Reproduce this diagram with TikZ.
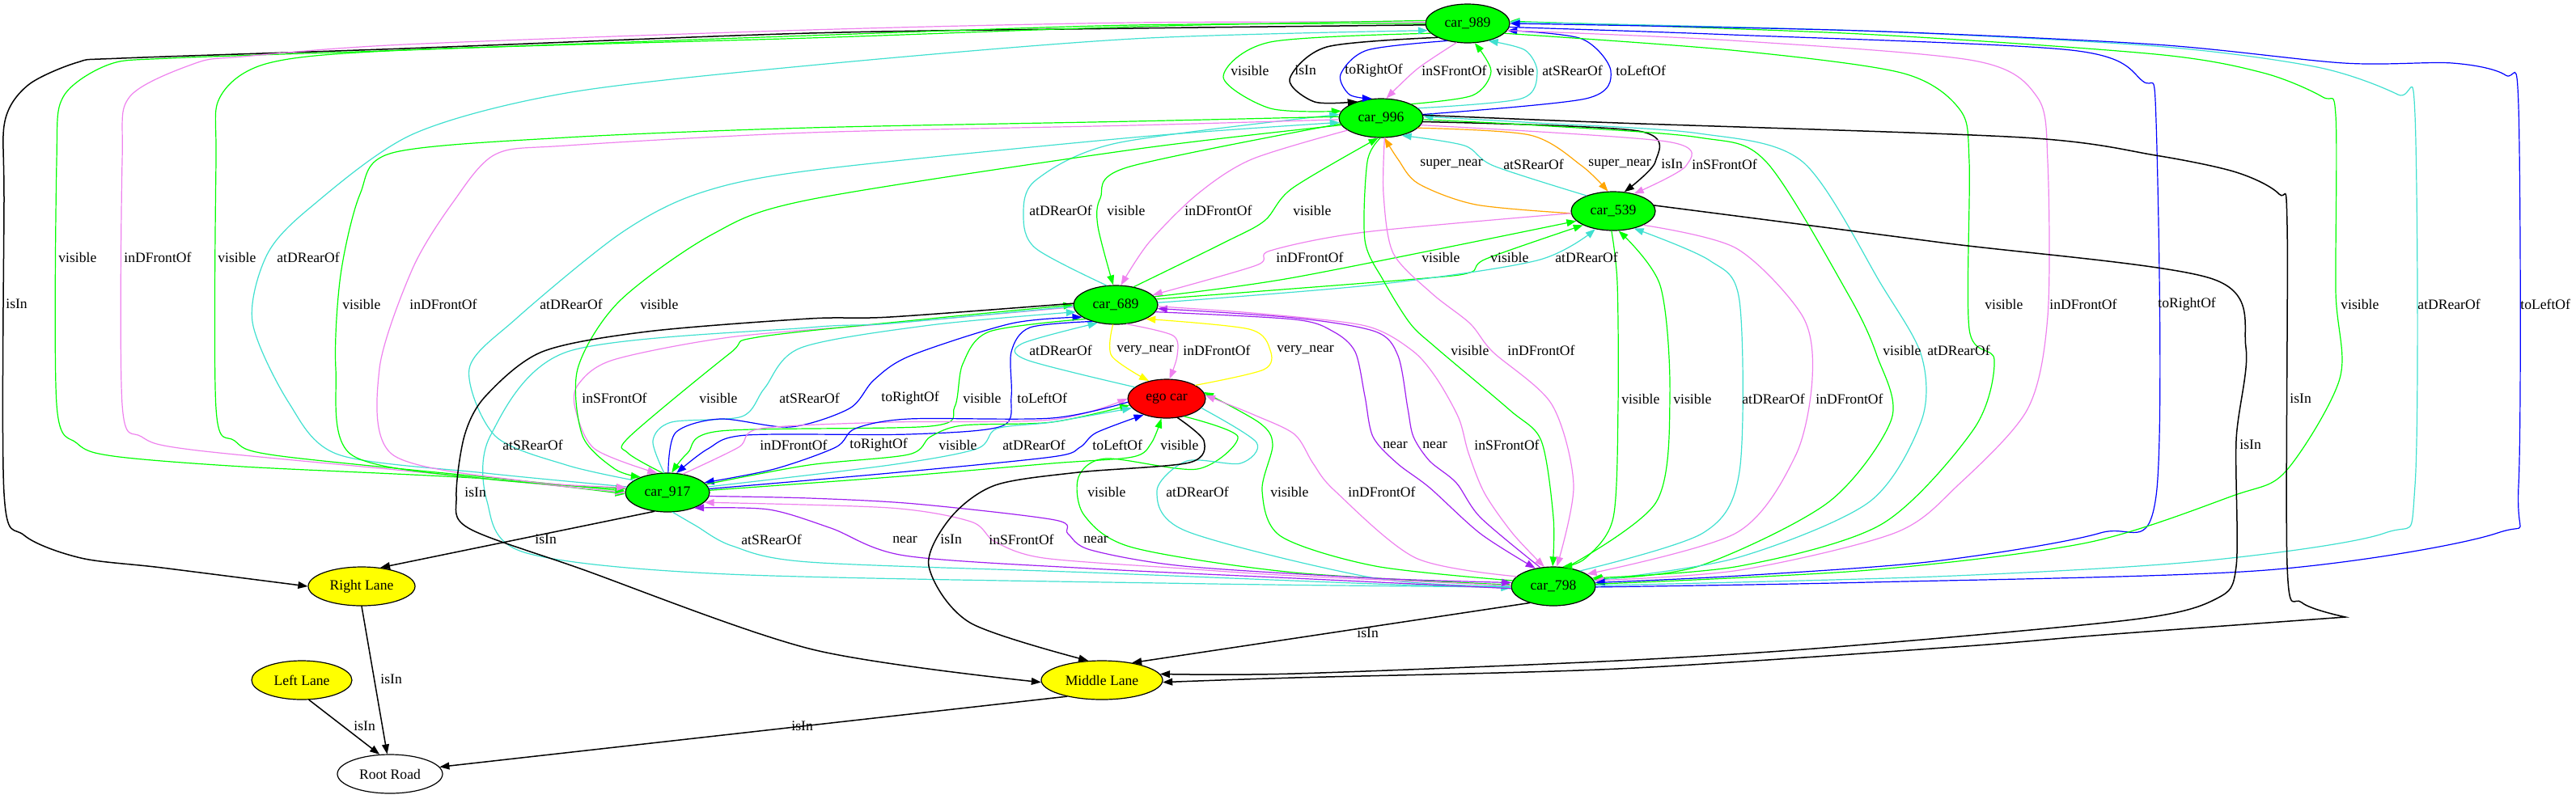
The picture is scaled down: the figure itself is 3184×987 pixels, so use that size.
\documentclass[tikz,border=0pt]{standalone}
\usepackage{fontspec}
\setmainfont{Liberation Serif}
\usetikzlibrary{shapes.geometric,arrows.meta}

\definecolor{gvgreen}{HTML}{00FF00}
\definecolor{gvviolet}{HTML}{EE82EE}
\definecolor{gvcyan}{HTML}{40E0D0}
\definecolor{gvblue}{HTML}{0000FF}
\definecolor{gvorange}{HTML}{FFA500}
\definecolor{gvyellow}{HTML}{FFFF00}
\definecolor{gvpurple}{HTML}{A020F0}
\definecolor{gvred}{HTML}{FF0000}
\newcommand{\gvfont}{\fontsize{8.8}{10}\selectfont}

\tikzset{
  gvnode/.style={ellipse,draw,line width=0.6pt,inner sep=0pt,minimum height=24pt,font=\gvfont},
  carnode/.style={gvnode,fill=gvgreen,minimum width=52pt},
  lanenode/.style={gvnode,fill=gvyellow},
  lbl/.style={anchor=west,inner sep=0pt,font=\gvfont},
  rel/.style={line width=0.6pt,line cap=round,-{Triangle[length=6pt,width=4.4pt]}},
  greenrel/.style={rel,gvgreen},
  violetrel/.style={rel,gvviolet},
  cyanrel/.style={rel,gvcyan},
  bluerel/.style={rel,gvblue},
  orangerel/.style={rel,gvorange},
  yellowrel/.style={rel,gvyellow},
  purplerel/.style={rel,gvpurple},
  blackrel/.style={rel,black,line width=0.75pt}
}

\begin{document}
\begin{tikzpicture}[x=0.5pt,y=-0.5pt]
  \useasboundingbox (0,0) rectangle (3184,987);

  % objects
  \node[carnode] (c989) at (1814,29) {car\_989};
  \node[carnode] (c996) at (1707,146) {car\_996};
  \node[carnode] (c539) at (1994,261) {car\_539};
  \node[carnode] (c689) at (1379,377) {car\_689};
  \node[gvnode,fill=gvred,minimum width=48pt] (ego) at (1442,493) {ego car};
  \node[carnode] (c917) at (825,609) {car\_917};
  \node[carnode] (c798) at (1920,725) {car\_798};
  \node[lanenode,minimum width=66pt] (rightlane) at (447,725) {Right Lane};
  \node[lanenode,minimum width=75pt] (midlane) at (1362,841) {Middle Lane};
  \node[lanenode,minimum width=62pt] (leftlane) at (373,841) {Left Lane};
  \node[gvnode,fill=white,minimum width=65pt] (rootroad) at (482,957) {Root Road};

  % car_989 <-> car_996
  \draw[greenrel] plot[smooth] coordinates {(c989.195) (1570,52) (1512,95) (1570,134) (c996.170)};
  \draw[blackrel] plot[smooth] coordinates {(c989.205) (1640,58) (1594,98) (1625,126) (c996.145)};
  \draw[bluerel] plot[smooth] coordinates {(c989.220) (1690,62) (1657,92) (1668,117) (c996.115)};
  \draw[violetrel] plot[smooth] coordinates {(c989.240) (1752,85) (c996.75)};
  \draw[greenrel] plot[smooth] coordinates {(c996.25) (1820,118) (1843,88) (c989.290)};
  \draw[cyanrel] plot[smooth] coordinates {(c996.15) (1880,122) (1900,90) (1885,62) (c989.320)};
  \draw[bluerel] plot[smooth] coordinates {(c996.5) (1960,122) (1991,88) (1955,48) (c989.350)};

  % car_996 <-> car_539
  \draw[orangerel] plot[smooth] coordinates {(c539.183) (1824,253) (1753,227) (1728,197) (c996.280)};
  \draw[cyanrel] plot[smooth] coordinates {(c539.150) (1846,205) (1810,180) (c996.320)};
  \draw[orangerel] plot[smooth] coordinates {(c996.345) (1891,167) (1955,205) (c539.105)};
  \draw[blackrel] plot[smooth] coordinates {(c996.355) (2025,162) (2046,200) (c539.60)};
  \draw[violetrel] plot[smooth] coordinates {(c996.350) (2060,175) (2084,205) (c539.40)};

  % car_996 <-> car_689
  \draw[cyanrel] plot[smooth] coordinates {(c689.115) (1280,307) (1265,267) (1280,223) (1380,177) (c996.175)};
  \draw[greenrel] plot[smooth] coordinates {(c996.188) (1393,207) (1360,245) (1357,280) (c689.97)};
  \draw[violetrel] plot[smooth] coordinates {(c996.200) (1547,197) (1480,240) (1420,300) (c689.75)};
  \draw[greenrel] plot[smooth] coordinates {(c689.45) (1513,300) (1563,273) (1597,233) (c996.262)};

  % car_539 <-> car_689
  \draw[violetrel] plot[smooth] coordinates {(c539.183) (1687,287) (1570,310) (1553,328) (c689.15)};
  \draw[greenrel] plot[smooth] coordinates {(c689.12) (1600,343) (c539.195)};
  \draw[greenrel] plot[smooth] coordinates {(c689.8) (1750,345) (1817,337) (1837,320) (c539.205)};
  \draw[cyanrel] plot[smooth] coordinates {(c689.3) (1700,352) (1900,322) (c539.225)};

  % car_689 <-> ego car
  \draw[yellowrel] plot[smooth] coordinates {(c689.262) (1374,440) (ego.135)};
  \draw[violetrel] plot[smooth] coordinates {(c689.300) (1450,415) (1455,440) (ego.82)};
  \draw[yellowrel] plot[smooth] coordinates {(ego.25) (1562,457) (1570,433) (1544,407) (c689.335)};
  \draw[cyanrel] plot[smooth] coordinates {(ego.160) (1269,445) (1263,425) (c689.225)};

  % car_689 <-> car_917
  \draw[violetrel] plot[smooth] coordinates {(c689.183) (1100,400) (902,417) (758,445) (715,475) (711,505) (735,555) (c917.118)};
  \draw[greenrel] plot[smooth] coordinates {(c917.105) (776,560) (778,540) (902,437) (936,417) (1150,394) (c689.180)};
  \draw[cyanrel] plot[smooth] coordinates {(c917.100) (807,545) (830,522) (917,515) (945,480) (990,430) (1150,402) (c689.190)};
  \draw[bluerel] plot[smooth] coordinates {(c917.88) (835,535) (890,518) (977,528) (1050,505) (1080,470) (1125,440) (1250,400) (c689.200)};
  \draw[greenrel] plot[smooth] coordinates {(c689.205) (1223,410) (1190,450) (1180,503) (1150,527) (890,533) (850,560) (c917.78)};
  \draw[bluerel] plot[smooth] coordinates {(c689.215) (1273,405) (1250,435) (1250,490) (1238,527) (1123,537) (923,538) (875,555) (c917.65)};

  % car_917 <-> ego car
  \draw[violetrel] plot[smooth] coordinates {(c917.50) (913,553) (940,530) (1100,522) (1300,519) (ego.180)};
  \draw[bluerel] plot[smooth] coordinates {(ego.185) (1300,517) (1123,518) (1057,530) (1033,553) (957,580) (c917.15)};
  \draw[greenrel] plot[smooth] coordinates {(c917.12) (1000,575) (1123,562) (1150,540) (1190,526) (1300,522) (ego.190)};
  \draw[cyanrel] plot[smooth] coordinates {(c917.8) (1100,575) (1207,555) (1232,530) (1300,522) (ego.195)};
  \draw[bluerel] plot[smooth] coordinates {(c917.5) (1100,585) (1300,565) (1335,553) (1355,535) (ego.215)};
  \draw[greenrel] plot[smooth] coordinates {(c917.3) (1100,590) (1300,573) (1400,565) (1423,548) (ego.255)};

  % ego car <-> car_798
  \draw[greenrel] plot[smooth] coordinates {(ego.315) (1530,540) (1480,580) (1367,567) (1333,590) (1340,637) (1400,677) (1600,708) (c798.178)};
  \draw[cyanrel] plot[smooth] coordinates {(ego.345) (1553,547) (1533,573) (1467,570) (1430,607) (1467,657) (1700,715) (c798.180)};
  \draw[greenrel] plot[smooth] coordinates {(c798.172) (1700,700) (1583,663) (1560,607) (1573,550) (1557,523) (ego.10)};
  \draw[violetrel] plot[smooth] coordinates {(c798.165) (1750,690) (1650,607) (1623,573) (1600,537) (1550,513) (ego.5)};

  % car_689 <-> car_798
  \draw[purplerel] plot[smooth] coordinates {(c689.350) (1600,395) (1648,410) (1675,435) (1687,490) (1697,540) (1727,573) (1767,603) (1830,660) (c798.135)};
  \draw[purplerel] plot[smooth] coordinates {(c798.125) (1830,640) (1800,597) (1767,570) (1747,540) (1740,505) (1728,440) (1700,410) (1600,393) (c689.355)};
  \draw[violetrel] plot[smooth] coordinates {(c689.358) (1560,388) (1688,403) (1745,433) (1775,467) (1803,517) (1815,560) (1835,610) (1870,660) (c798.115)};
  \draw[cyanrel] plot[smooth] coordinates {(c689.182) (1100,400) (1000,405) (701,435) (606,539) (602,620) (648,683) (900,710) (1500,722) (c798.181)};

  % car_996 <-> car_798
  \draw[greenrel] plot[smooth] coordinates {(c996.268) (1690,200) (1687,297) (1710,347) (1743,400) (1775,430) (1866,507) (1905,545) (1920,640) (c798.92)};
  \draw[violetrel] plot[smooth] coordinates {(c996.280) (1710,240) (1722,313) (1770,363) (1817,400) (1845,435) (1918,500) (1945,600) (c798.80)};
  \draw[greenrel] plot[smooth] coordinates {(c996.358) (1900,155) (2100,170) (2183,200) (2285,365) (2320,440) (2338,518) (2260,621) (2100,700) (c798.10)};
  \draw[cyanrel] plot[smooth] coordinates {(c798.8) (2146,690) (2310,621) (2375,520) (2375,440) (2326,353) (2228,200) (2100,165) (1900,152) (c996.2)};

  % car_539 <-> car_798
  \draw[greenrel] plot[smooth] coordinates {(c539.265) (1999,350) (2000,500) (1994,640) (1960,690) (c798.65)};
  \draw[greenrel] plot[smooth] coordinates {(c798.55) (2047,621) (2064,491) (2052,353) (c539.285)};
  \draw[cyanrel] plot[smooth] coordinates {(c798.30) (2105,659) (2150,583) (2150,372) (2113,322) (c539.320)};
  \draw[violetrel] plot[smooth] coordinates {(c539.335) (2146,307) (2228,391) (2240,468) (2219,564) (2146,659) (c798.20)};

  % car_989 -> car_798 and back
  \draw[greenrel] plot[smooth] coordinates {(c989.345) (2140,62) (2350,90) (2422,135) (2434,200) (2434,407) (2465,445) (2440,530) (2326,648) (2150,700) (c798.12)};
  \draw[violetrel] plot[smooth] coordinates {(c989.350) (2140,50) (2440,75) (2518,120) (2531,200) (2531,391) (2506,506) (2420,600) (2342,659) (2150,705) (c798.8)};
  \draw[bluerel] plot[smooth] coordinates {(c989.355) (2140,43) (2560,62) (2648,100) (2665,150) (2665,613) (2596,659) (2391,694) (2150,712) (c798.5)};
  \draw[greenrel] plot[smooth] coordinates {(c798.3) (2310,705) (2580,671) (2760,613) (2825,583) (2892,468) (2887,360) (2887,143) (2871,120) (2797,90) (2664,67) (2300,42) (c989.3)};
  \draw[cyanrel] plot[smooth] coordinates {(c798.1) (2391,713) (2719,694) (2948,659) (2985,600) (2985,143) (2964,117) (2864,83) (2664,57) (2300,38) (c989.2)};
  \draw[bluerel] plot[smooth] coordinates {(c798.359) (2310,720) (2801,705) (3087,659) (3113,600) (3113,133) (3097,93) (3031,78) (2897,78) (2664,55) (2300,38) (c989.0)};

  % isIn links into Middle Lane on the right
  \draw[blackrel] plot[smooth] coordinates {(c539.8) (2400,300) (2735,345) (2776,430) (2764,544) (2764,700) (2740,740) (2637,766) (2268,800) (2000,817) (1600,833) (midlane.6)};
  \draw[blackrel] plot[smooth] coordinates {(c996.4) (2000,152) (2500,170) (2664,192) (2764,213) (2817,240) (2827,280) (2827,700) (2845,745) (2899,763)}
    -- plot[smooth] coordinates {(2899,763) (2600,785) (2416,800) (2000,827) (1600,838) (midlane.358)};

  % car_989 / car_996 -> car_917 and Right Lane on the left
  \draw[blackrel] plot[smooth] coordinates {(c989.182) (1400,35) (1000,41) (500,60) (150,72) (96,77) (35,105) (6,150) (5,250) (5,610) (30,662) (100,690) (200,702) (rightlane.180)};
  \draw[greenrel] plot[smooth] coordinates {(c989.180) (1400,31) (1000,44) (500,62) (210,72) (134,80) (78,120) (70,200) (70,500) (95,548) (140,564) (300,577) (600,592) (c917.182)};
  \draw[violetrel] plot[smooth] coordinates {(c989.178) (1400,28) (1000,37) (500,55) (300,70) (242,78) (160,120) (151,200) (151,500) (175,540) (236,556) (500,582) (c917.180)};
  \draw[greenrel] plot[smooth] coordinates {(c989.176) (1400,33) (1000,47) (500,62) (332,78) (272,120) (267,200) (267,505) (290,545) (340,563) (600,590) (c917.178)};
  \draw[cyanrel] plot[smooth] coordinates {(c917.172) (600,585) (418,562) (357,498) (312,398) (330,315) (383,257) (510,166) (700,115) (1000,81) (1400,48) (c989.190)};
  \draw[greenrel] plot[smooth] coordinates {(c996.178) (1400,150) (1000,158) (700,170) (485,189) (445,240) (421,340) (415,456) (434,562) (600,592) (c917.175)};
  \draw[violetrel] plot[smooth] coordinates {(c996.182) (1400,155) (1000,164) (700,180) (612,191) (560,250) (510,332) (469,456) (485,562) (650,595) (c917.173)};
  \draw[cyanrel] plot[smooth] coordinates {(c917.160) (700,575) (612,539) (580,456) (638,394) (765,290) (861,240) (1000,211) (1400,170) (c996.186)};
  \draw[greenrel] plot[smooth] coordinates {(c996.190) (1400,185) (1000,247) (880,290) (765,373) (714,456) (720,539) (760,580) (c917.150)};

  % car_917 <-> car_798
  \draw[cyanrel] plot[smooth] coordinates {(c917.285) (860,650) (905,675) (1000,695) (1348,708) (1700,722) (c798.182)};
  \draw[purplerel] plot[smooth] coordinates {(c798.183) (1600,715) (1348,703) (1118,687) (1027,653) (950,630) (c917.330)};
  \draw[violetrel] plot[smooth] coordinates {(c798.179) (1600,712) (1463,703) (1290,690) (1230,670) (1200,645) (1100,628) (c917.345)};
  \draw[purplerel] plot[smooth] coordinates {(c917.355) (1000,616) (1131,623) (1304,643) (1320,660) (1348,680) (1463,700) (1700,715) (c798.175)};

  % lanes and road
  \draw[blackrel] plot[smooth] coordinates {(ego.300) (1488,545) (1470,572) (1333,584) (1230,600) (1175,640) (1148,700) (1199,770) (midlane.125)};
  \draw[blackrel] plot[smooth] coordinates {(c689.178) (1100,392) (1000,394) (800,410) (670,435) (600,490) (574,539) (564,614) (579,653) (717,703) (1004,803) (midlane.182)};
  \draw[blackrel] (c917.235) -- (rightlane.45);
  \draw[blackrel] (c798.215) -- (midlane.30);
  \draw[blackrel] (rightlane.270) -- (rootroad.98);
  \draw[blackrel] (leftlane.290) -- (rootroad.118);
  \draw[blackrel] (midlane.205) -- (rootroad.8);

  % edge labels
  \foreach \lx/\ly/\lt [count=\i] in {
    1521/87/visible, 1600/87/isIn, 1662/87/toRightOf, 1757/87/inSFrontOf,
    1849/87/visible, 1906/87/atSRearOf, 1997/87/toLeftOf,
    1755/203/super\_near, 1858/203/atSRearOf, 1963/203/super\_near,
    2053/203/isIn, 2091/203/inSFrontOf,
    1272/260/atDRearOf, 1368/260/visible, 1464/260/inDFrontOf, 1598/260/visible,
    1577/318/inDFrontOf, 1757/318/visible, 1842/318/visible, 1922/318/atDRearOf,
    1272/433/atDRearOf, 1380/433/very\_near, 1462/433/inDFrontOf, 1578/433/very\_near,
    1793/433/visible, 1863/433/inDFrontOf, 2327/433/visible, 2382/433/atDRearOf,
    2453/376/visible, 2533/376/inDFrontOf, 2667/376/toRightOf,
    2893/376/visible, 2988/376/atDRearOf, 3115/376/toLeftOf,
    2004/493/visible, 2068/493/visible, 2153/493/atDRearOf, 2244/493/inDFrontOf,
    2830/493/isIn, 2768/550/isIn,
    7/376/isIn, 72/318/visible, 153/318/inDFrontOf, 269/318/visible, 342/318/atDRearOf,
    423/376/visible, 506/376/inDFrontOf, 667/376/atDRearOf, 791/376/visible,
    719/492/inSFrontOf, 864/492/visible, 963/492/atSRearOf, 1089/492/toRightOf,
    1190/492/visible, 1257/492/toLeftOf,
    621/550/atSRearOf, 939/550/inDFrontOf, 1050/550/toRightOf, 1160/550/visible,
    1239/550/atDRearOf, 1350/550/toLeftOf, 1434/550/visible,
    1709/550/near, 1758/550/near, 1822/550/inSFrontOf,
    574/609/isIn, 1344/608/visible, 1441/608/atDRearOf, 1570/608/visible, 1666/608/inDFrontOf,
    661/667/isIn, 916/667/atSRearOf, 1103/667/near, 1162/667/isIn, 1222/667/inSFrontOf, 1339/667/near,
    1677/783/isIn, 470/840/isIn, 437/898/isIn, 978/898/isIn} {
    \node[lbl] (lab\i) at (\lx,\ly) {\lt};
  }
\end{tikzpicture}
\end{document}
